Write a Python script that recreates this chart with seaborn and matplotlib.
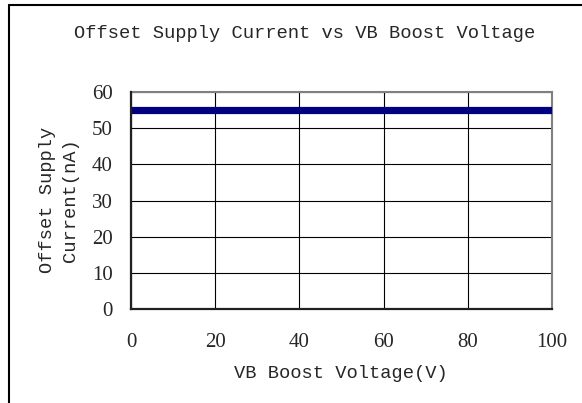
import numpy as np
import pandas as pd
import matplotlib
matplotlib.use('Agg')
import matplotlib.pyplot as plt
from matplotlib.lines import Line2D
import seaborn as sns

# values
voltage = [0, 20, 40, 60, 80, 100]
current = [55, 55, 55, 55, 55, 55]
x_ticks = [0, 20, 40, 60, 80, 100]
y_ticks = [0, 10, 20, 30, 40, 50, 60]

title = 'Offset Supply Current vs VB Boost Voltage'
x_label = 'VB Boost Voltage(V)'
y_label = 'Offset Supply\nCurrent(nA)'

df = pd.DataFrame({'voltage': voltage, 'current': current})

sns.set_style('white')
mono = ['Liberation Mono', 'DejaVu Sans Mono']
serif = ['Liberation Serif', 'DejaVu Serif']

fig = plt.figure(figsize=(5.82, 4.03), dpi=100)
W, H = 582, 403
ax = fig.add_axes([131 / W, 1 - 309 / H, (552 - 131) / W, (309 - 92) / H])

sns.lineplot(data=df, x='voltage', y='current', ax=ax, color='#000080',
             linewidth=5.2, zorder=3)

ax.set_xlim(0, 100)
ax.set_ylim(0, 60)
ax.set_xticks(x_ticks)
ax.set_yticks(y_ticks)
ax.set_xticklabels([str(t) for t in x_ticks], family=serif, fontsize=15)
ax.set_yticklabels([str(t) for t in y_ticks], family=serif, fontsize=15)
ax.tick_params(axis='x', length=0, pad=17)
ax.tick_params(axis='y', length=0, pad=13)
ax.set_xlabel('')
ax.set_ylabel('')

ax.grid(True, color='black', linewidth=0.8)
for side in ['top', 'right']:
    ax.spines[side].set_color('#808080')
    ax.spines[side].set_linewidth(1.5)
for side in ['left', 'bottom']:
    ax.spines[side].set_color('#202020')
    ax.spines[side].set_linewidth(1.6)
    ax.spines[side].set_zorder(4)

fig.text(305 / W, 1 - 34 / H, title, family=mono, fontsize=13.5,
         ha='center', va='center')
fig.text(341 / W, 1 - 373 / H, x_label, family=mono, fontsize=13.5,
         ha='center', va='center')
fig.text(59 / W, 1 - 200 / H, y_label, family=mono, fontsize=13.5,
         ha='center', va='center', rotation=90, multialignment='center',
         linespacing=1.5)

# outer chart border (cut off at the right and bottom)
fig.add_artist(Line2D([9 / W, 9 / W], [0, 1 - 5 / H], color='black', linewidth=1.5))
fig.add_artist(Line2D([9 / W, 1], [1 - 5 / H, 1 - 5 / H], color='black', linewidth=1.5))

fig.savefig('out.png', dpi=100)
